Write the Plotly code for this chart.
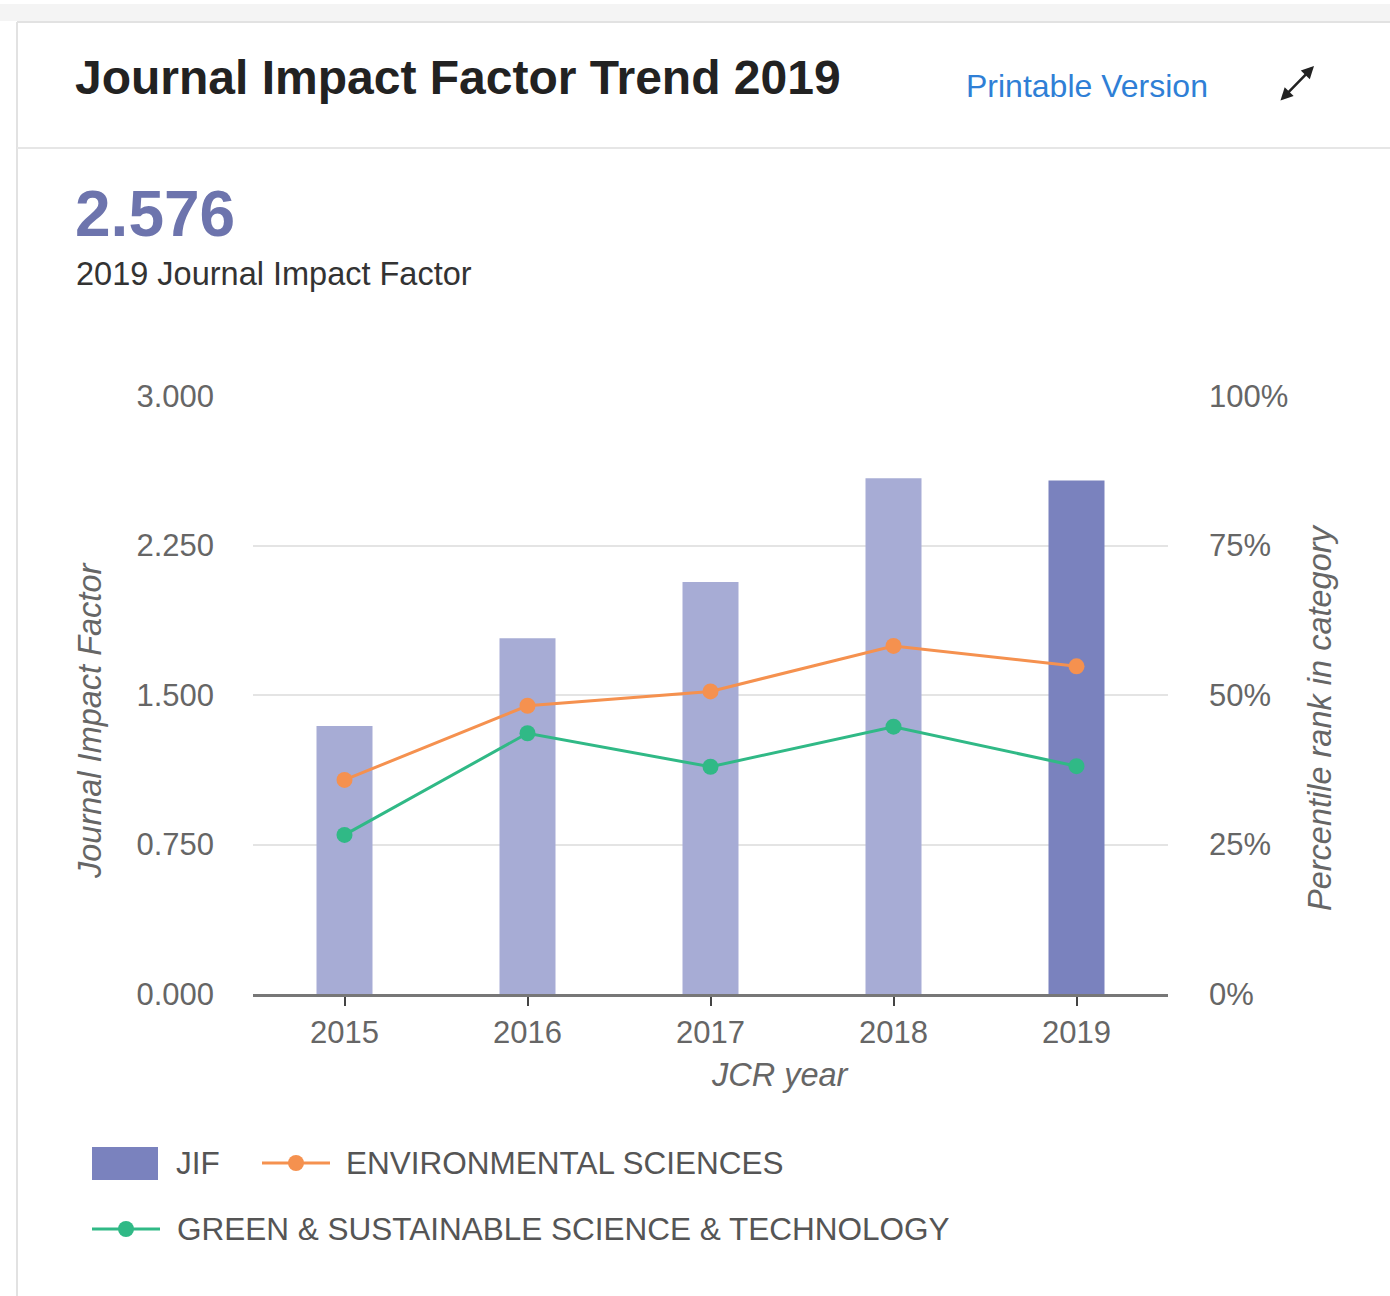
import plotly.graph_objects as go

# ---------------- data ----------------
years = ["2015", "2016", "2017", "2018", "2019"]
jif_values = [1.345, 1.785, 2.067, 2.588, 2.576]
env_sci_pct = [35.8, 48.2, 50.6, 58.2, 54.8]
green_sci_pct = [26.6, 43.6, 38.0, 44.7, 38.1]
left_ticks = [0, 0.75, 1.5, 2.25, 3.0]
right_ticks = [0, 25, 50, 75, 100]
right_tick_labels = [f"{v}%" for v in right_ticks]

# ---------------- styles ----------------
FONT = "Liberation Sans, Arial, Helvetica, sans-serif"
BAR_LIGHT = "#a7acd5"
BAR_DARK = "#7a82be"
ORANGE = "#f5914f"
GREEN = "#30b986"
TICK_GRAY = "#666666"

W_FIG, H_FIG = 1390, 1296
L, R, T, B = 253, 1168, 396, 994


def fx(x):
    return (x - L) / (R - L)


def fy(y):
    return (B - y) / (B - T)


bar_colors = [BAR_LIGHT] * (len(years) - 1) + [BAR_DARK]

fig = go.Figure()
fig.add_trace(go.Bar(
    x=years, y=jif_values, name="JIF",
    marker=dict(color=bar_colors, line=dict(width=0)),
    width=0.306, yaxis="y",
))
fig.add_trace(go.Scatter(
    x=years, y=env_sci_pct, name="ENVIRONMENTAL SCIENCES",
    mode="lines+markers", yaxis="y2",
    line=dict(color=ORANGE, width=3),
    marker=dict(color=ORANGE, size=16),
))
fig.add_trace(go.Scatter(
    x=years, y=green_sci_pct, name="GREEN & SUSTAINABLE SCIENCE & TECHNOLOGY",
    mode="lines+markers", yaxis="y2",
    line=dict(color=GREEN, width=3),
    marker=dict(color=GREEN, size=16),
))

shapes = [
    # top shadow
    dict(type="rect", xref="paper", yref="paper", x0=fx(0), x1=fx(1390), y0=fy(4), y1=fy(21),
         fillcolor="#f4f4f4", line=dict(width=0), layer="below"),
    # card borders
    dict(type="line", xref="paper", yref="paper", x0=fx(17), x1=fx(1390), y0=fy(22), y1=fy(22),
         line=dict(color="#e2e2e2", width=2)),
    dict(type="line", xref="paper", yref="paper", x0=fx(17), x1=fx(17), y0=fy(22), y1=fy(1296),
         line=dict(color="#e2e2e2", width=2)),
    dict(type="line", xref="paper", yref="paper", x0=fx(17), x1=fx(1390), y0=fy(148), y1=fy(148),
         line=dict(color="#e6e6e6", width=2)),
    # legend symbols
    dict(type="rect", xref="paper", yref="paper", x0=fx(92), x1=fx(158), y0=fy(1147), y1=fy(1180),
         fillcolor=BAR_DARK, line=dict(width=0)),
    dict(type="line", xref="paper", yref="paper", x0=fx(262), x1=fx(330), y0=fy(1163), y1=fy(1163),
         line=dict(color=ORANGE, width=3)),
    dict(type="circle", xref="paper", yref="paper", x0=fx(288), x1=fx(304), y0=fy(1155), y1=fy(1171),
         fillcolor=ORANGE, line=dict(width=0)),
    dict(type="line", xref="paper", yref="paper", x0=fx(92), x1=fx(160), y0=fy(1229), y1=fy(1229),
         line=dict(color=GREEN, width=3)),
    dict(type="circle", xref="paper", yref="paper", x0=fx(118), x1=fx(134), y0=fy(1221), y1=fy(1237),
         fillcolor=GREEN, line=dict(width=0)),
]

annotations = [
    dict(text="Journal Impact Factor Trend 2019", x=fx(73), y=fy(78), xref="paper", yref="paper",
         xanchor="left", yanchor="middle", showarrow=False,
         font=dict(family=FONT, size=48, color="#222222", weight=700)),
    dict(text="Printable Version", x=fx(964), y=fy(86), xref="paper", yref="paper",
         xanchor="left", yanchor="middle", showarrow=False,
         font=dict(family=FONT, size=32, color="#2f7fd6")),
    dict(text="", x=fx(1314), y=fy(66), ax=-35, ay=36, xref="paper", yref="paper",
         axref="pixel", ayref="pixel", showarrow=True, arrowhead=2, arrowside="end+start",
         arrowwidth=2.5, arrowsize=1, arrowcolor="#222222"),
    dict(text="2.576", x=fx(73), y=fy(214), xref="paper", yref="paper",
         xanchor="left", yanchor="middle", showarrow=False,
         font=dict(family=FONT, size=64, color="#6d74ad", weight=700)),
    dict(text="2019 Journal Impact Factor", x=fx(74), y=fy(274), xref="paper", yref="paper",
         xanchor="left", yanchor="middle", showarrow=False,
         font=dict(family=FONT, size=32.5, color="#333333")),
    dict(text="<i>JCR year</i>", x=fx(780), y=fy(1075), xref="paper", yref="paper",
         xanchor="center", yanchor="middle", showarrow=False,
         font=dict(family=FONT, size=32.5, color=TICK_GRAY)),
    dict(text="<i>Journal Impact Factor</i>", x=fx(90), y=fy(721), xref="paper", yref="paper",
         xanchor="center", yanchor="middle", textangle=-90, showarrow=False,
         font=dict(family=FONT, size=32.5, color=TICK_GRAY)),
    dict(text="<i>Percentile rank in category</i>", x=fx(1320), y=fy(718), xref="paper",
         yref="paper", xanchor="center", yanchor="middle", textangle=-90, showarrow=False,
         font=dict(family=FONT, size=32.5, color=TICK_GRAY)),
    dict(text="JIF", x=fx(174), y=fy(1163), xref="paper", yref="paper",
         xanchor="left", yanchor="middle", showarrow=False,
         font=dict(family=FONT, size=31.5, color="#555555")),
    dict(text="ENVIRONMENTAL SCIENCES", x=fx(344), y=fy(1163), xref="paper", yref="paper",
         xanchor="left", yanchor="middle", showarrow=False,
         font=dict(family=FONT, size=31.5, color="#555555")),
    dict(text="GREEN & SUSTAINABLE SCIENCE & TECHNOLOGY", x=fx(175), y=fy(1229), xref="paper",
         yref="paper", xanchor="left", yanchor="middle", showarrow=False,
         font=dict(family=FONT, size=31.5, color="#555555")),
]

fig.update_layout(
    width=W_FIG, height=H_FIG, autosize=False,
    margin=dict(l=L, r=W_FIG - R, t=T, b=H_FIG - B, pad=0),
    paper_bgcolor="white", plot_bgcolor="white",
    showlegend=False,
    font=dict(family=FONT, color=TICK_GRAY),
    shapes=shapes, annotations=annotations,
    xaxis=dict(
        type="category", showgrid=False, showline=True, linecolor="#777777", linewidth=3,
        ticks="outside", ticklen=9, tickwidth=2, tickcolor="#444444",
        ticklabelstandoff=0,
        tickfont=dict(family=FONT, size=31, color=TICK_GRAY),
    ),
    yaxis=dict(
        range=[0, 3], tickvals=left_ticks, tickformat=".3f",
        showgrid=True, gridcolor="#e4e4e4", gridwidth=1.5, zeroline=False, showline=False,
        ticks="", ticklabelstandoff=38,
        tickfont=dict(family=FONT, size=31, color=TICK_GRAY),
    ),
    yaxis2=dict(
        range=[0, 100], tickvals=right_ticks, ticktext=right_tick_labels,
        overlaying="y", side="right", showgrid=False, zeroline=False, showline=False,
        ticks="", ticklabelstandoff=40,
        tickfont=dict(family=FONT, size=31, color=TICK_GRAY),
    ),
)

fig.write_html("out.html", config={"displayModeBar": False},
               post_script="document.body.style.margin='0';")
